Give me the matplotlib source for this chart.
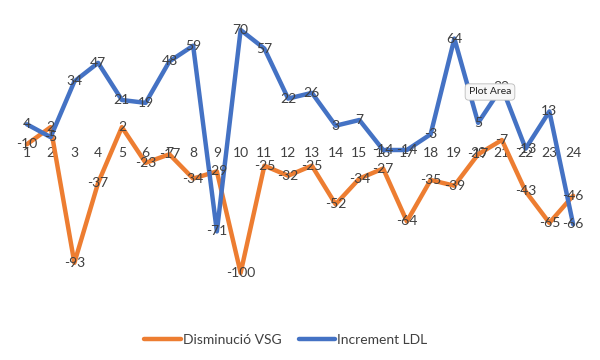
import matplotlib
matplotlib.use("Agg")
import matplotlib.pyplot as plt

categories = list(range(1, 25))
disminucio_vsg = [-10, 2, -93, -37, 2, -23, -17, -34, -29, -100, -25, -32,
                  -25, -52, -34, -27, -64, -35, -39, -17, -7, -43, -65, -46]
increment_ldl = [4, -5, 34, 47, 21, 19, 48, 59, -71, 70, 57, 22,
                 26, 3, 7, -14, -14, -3, 64, 5, 30, -13, 13, -66]

plt.rcParams['font.family'] = ['Lato', 'DejaVu Sans']
orange = '#ED7D31'
blue = '#4472C4'
txt = '#404040'

fig = plt.figure(figsize=(6, 3.6), dpi=100)
ax = fig.add_axes([15/600, 1 - 300/360, 570/600, 290/360])

ax.plot(categories, disminucio_vsg, color=orange, lw=3.2, label='Disminució VSG',
        solid_joinstyle='round', solid_capstyle='round')
ax.plot(categories, increment_ldl, color=blue, lw=3.2, label='Increment LDL',
        solid_joinstyle='round', solid_capstyle='round')

for x, v in zip(categories, disminucio_vsg):
    ax.text(x, v, str(v), ha='center', va='center', fontsize=10, color=txt, zorder=5)
for x, v in zip(categories, increment_ldl):
    ax.text(x, v, str(v), ha='center', va='center', fontsize=10, color=txt, zorder=5)

ax.set_xlim(0.5, 24.5)
ax.set_ylim(-119, 84)
ax.spines['bottom'].set_position(('data', 0))
for s in ['top', 'right', 'left', 'bottom']:
    ax.spines[s].set_visible(False)
ax.set_yticks([])
ax.set_xticks(categories)
ax.set_xticklabels([str(c) for c in categories])
ax.tick_params(axis='x', length=0, pad=12, labelsize=10, labelcolor=txt)

leg = fig.legend(loc='center', bbox_to_anchor=(286/600, 1 - 340/360), ncol=2, frameon=False,
                 fontsize=10, handlelength=2.6, handletextpad=0.2, columnspacing=1.2)
for t in leg.get_texts():
    t.set_color(txt)

fig.text(490/600, 1 - 92/360, 'Plot Area', fontsize=7.5, color='#222222', ha='center', va='center',
         bbox=dict(boxstyle='round,pad=0.35', fc='#f7f7f7', ec='#bbbbbb', lw=0.6), zorder=10)

fig.savefig('out.png', dpi=100)
